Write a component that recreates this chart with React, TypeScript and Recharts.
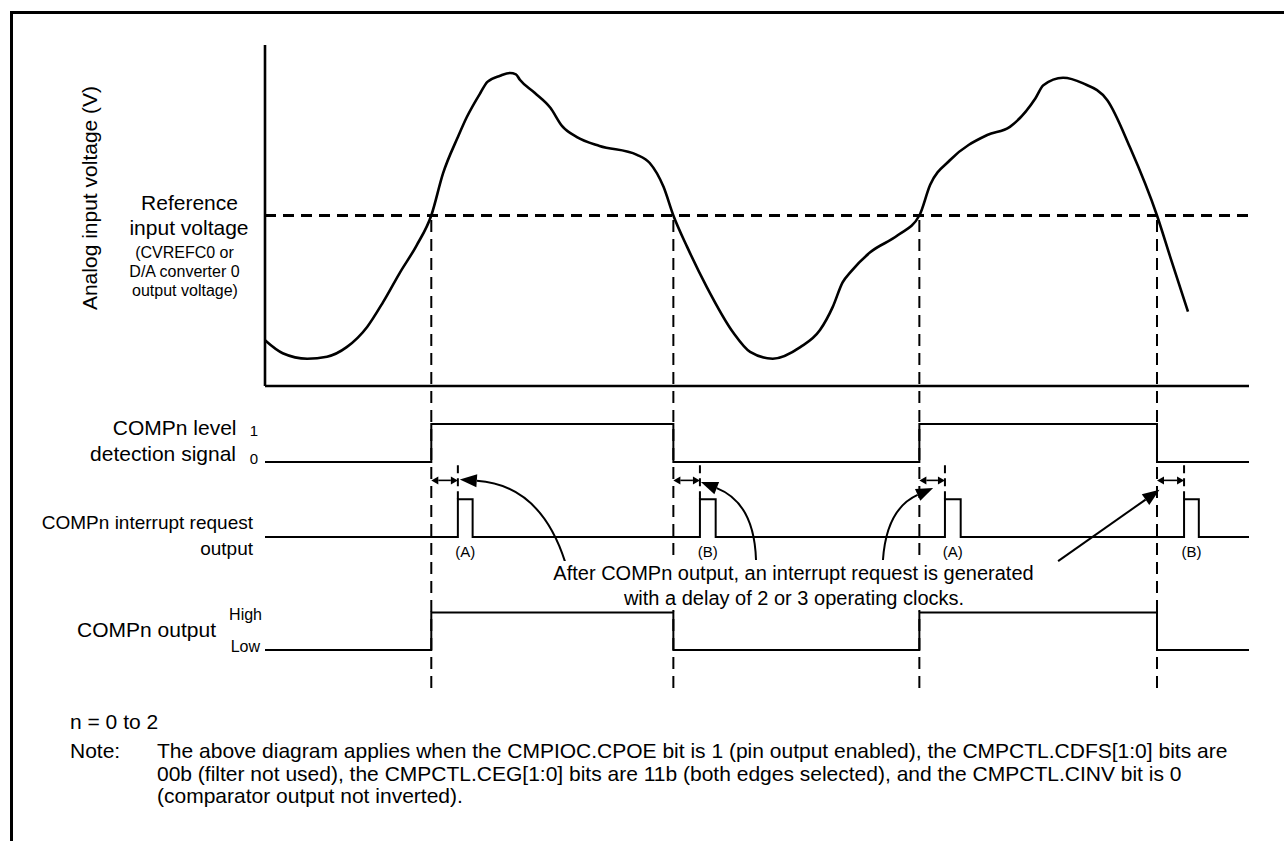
import React from 'react';
import { LineChart, Line, XAxis, YAxis, ReferenceLine, ReferenceDot } from 'recharts';

const W = 1284;
const H = 841;
const FONT = '"Liberation Sans", Arial, Helvetica, sans-serif';

// time axis, arbitrary units across the plot
const TIME_DOMAIN = [0, 100];
const VOLT_DOMAIN = [0, 5];

// analog input voltage
const analogT = [0, 1.8, 4.3, 6.3, 8.3, 10.4, 12.0, 13.7, 15.4, 16.9, 18.1, 19.6, 20.5, 21.9, 22.6, 23.9, 24.9, 25.5, 25.9, 27.4, 29.0, 30.2, 31.7, 34.0, 37.8, 39.1, 40.5, 41.5, 42.9, 44.9, 47.6, 49.3, 51.6, 54.4, 56.4, 57.7, 58.7, 59.5, 61.5, 64.3, 66.5, 67.6, 69.6, 73.4, 75.7, 78.3, 79.1, 81.1, 83.1, 85.6, 87.9, 90.65, 92.0, 93.8];
const analogV = [0.67, 0.48, 0.40, 0.43, 0.57, 0.87, 1.23, 1.66, 2.06, 2.5, 3.12, 3.65, 3.94, 4.30, 4.46, 4.55, 4.59, 4.57, 4.49, 4.30, 4.08, 3.81, 3.65, 3.52, 3.39, 3.27, 2.92, 2.5, 2.04, 1.45, 0.78, 0.50, 0.40, 0.57, 0.82, 1.16, 1.52, 1.67, 1.96, 2.21, 2.5, 2.95, 3.31, 3.68, 3.80, 4.22, 4.41, 4.52, 4.44, 4.19, 3.50, 2.5, 1.89, 1.09];
const REFERENCE_V = 2.5;

// comparator crossings -> level detection / COMPn output
const crossT = [16.9, 41.5, 66.5, 90.65];
const levelT = [0, 16.9, 41.5, 66.5, 90.65, 100];
const levelState = [0, 1, 0, 1, 0, 0];

// interrupt request pulses
const pulseStart = [19.6, 44.2, 69.1, 93.4];
const pulseEnd = [21.1, 45.8, 70.7, 94.9];
const pulseName = ['(A)', '(B)', '(A)', '(B)'];

// callout arrows: tail near the note, head at the delay marker (interrupt lane units)
const calloutTailT = [30.5, 49.9, 62.8, 80.6];
const calloutTailV = [-0.66, -0.61, -0.61, -0.64];
const calloutHeadT = [19.8, 44.3, 67.9, 90.9];
const calloutHeadV = [1.52, 1.46, 1.3, 1.25];
const calloutBend = [0.34, 0.33, -0.3, 0];

const analogData = analogT.map((t, i) => ({ t, v: analogV[i] }));
const levelData = levelT.map((t, i) => ({ t, v: levelState[i] }));
const irqData = [
  { t: 0, v: 0 },
  ...pulseStart.flatMap((s, i) => [{ t: s, v: 1 }, { t: pulseEnd[i], v: 0 }]),
  { t: 100, v: 0 },
];

// axes take 1px, so margins are 1px short of the plot edges
const margin = (top: number, bottom: number) => ({ top, bottom: H - bottom - 1, left: 264, right: 35 });
const layer: React.CSSProperties = { position: 'absolute', left: 0, top: 0 };

const DoubleArrow = (p: any) => {
  const { x1, y1, x2, y2 } = p;
  const h = 7;
  const w = 4;
  return (
    <g>
      <line x1={x1 + h} y1={y1} x2={x2 - h} y2={y2} stroke="#000" strokeWidth={1.6} />
      <path d={`M${x1},${y1} L${x1 + h},${y1 - w} L${x1 + h},${y1 + w} Z`} fill="#000" />
      <path d={`M${x2},${y2} L${x2 - h},${y2 - w} L${x2 - h},${y2 + w} Z`} fill="#000" />
    </g>
  );
};

const calloutShape = (bend: number) => (p: any) => {
  const { x1, y1, x2, y2 } = p;
  const dx = x2 - x1;
  const dy = y2 - y1;
  const len = Math.hypot(dx, dy);
  const cx = (x1 + x2) / 2 - (dy / len) * bend * len;
  const cy = (y1 + y2) / 2 + (dx / len) * bend * len;
  let ux = x2 - cx;
  let uy = y2 - cy;
  const ul = Math.hypot(ux, uy);
  ux /= ul;
  uy /= ul;
  const L = 17;
  const hw = 6.5;
  const bx = x2 - ux * L;
  const by = y2 - uy * L;
  return (
    <g>
      <path d={`M${x1},${y1} Q${cx},${cy} ${bx},${by}`} fill="none" stroke="#000" strokeWidth={2} />
      <path d={`M${x2},${y2} L${bx - uy * hw},${by + ux * hw} L${bx + uy * hw},${by - ux * hw} Z`} fill="#000" />
    </g>
  );
};

const levelTick = (p: any) => {
  const v = p.payload.value;
  return (
    <text x={p.x - 7} y={p.y + (v === 1 ? 12 : 2)} textAnchor="end" fontSize={15} fontFamily={FONT} fill="#000">
      {v === 1 ? '1' : '0'}
    </text>
  );
};

const outputTick = (p: any) => {
  const v = p.payload.value;
  return (
    <text x={p.x - (v === 1 ? 3 : 5)} y={p.y + (v === 1 ? 7.5 : 2)} textAnchor="end" fontSize={16} fontFamily={FONT} fill="#000">
      {v === 1 ? 'High' : 'Low'}
    </text>
  );
};

const hiddenX = <XAxis dataKey="t" type="number" domain={TIME_DOMAIN} allowDataOverflow height={1} tick={false} tickLine={false} axisLine={false} />;

const txt = { fontFamily: FONT, fill: '#000' };

export default function App() {
  return (
    <div style={{ position: 'absolute', left: 0, top: 0, width: W, height: H, background: '#fff', overflow: 'hidden' }}>
      {/* frame */}
      <div style={{ position: 'absolute', left: 9.5, top: 10.5, width: W, height: H, borderTop: '3px solid #000', borderLeft: '3px solid #000' }} />

      {/* analog input voltage */}
      <div style={layer}>
        <LineChart width={W} height={H} margin={margin(45, 386)}>
          <XAxis dataKey="t" type="number" domain={TIME_DOMAIN} allowDataOverflow tick={false} tickLine={false} height={1} axisLine={{ stroke: '#000', strokeWidth: 2.6 }} />
          <YAxis type="number" domain={VOLT_DOMAIN} allowDataOverflow tick={false} tickLine={false} width={1} axisLine={{ stroke: '#000', strokeWidth: 2.6 }} />
          <ReferenceLine y={REFERENCE_V} stroke="#000" strokeWidth={3.2} strokeDasharray="11 7" />
          <Line data={analogData} dataKey="v" type="monotone" stroke="#000" strokeWidth={2.6} dot={false} isAnimationActive={false} />
        </LineChart>
      </div>

      {/* crossing guides */}
      <div style={layer}>
        <LineChart width={W} height={H} margin={margin(216, 688)}>
          {hiddenX}
          <YAxis type="number" domain={[0, 1]} width={1} tick={false} tickLine={false} axisLine={false} />
          <Line data={levelData} dataKey="v" stroke="none" dot={false} isAnimationActive={false} />
          {crossT.map((t) => (
            <ReferenceLine key={t} x={t} ifOverflow="visible" stroke="#000" strokeWidth={2} strokeDasharray="12 7" />
          ))}
        </LineChart>
      </div>

      {/* COMPn level detection signal */}
      <div style={layer}>
        <LineChart width={W} height={H} margin={margin(424, 462)}>
          {hiddenX}
          <YAxis type="number" domain={[0, 1]} ticks={[0, 1]} width={1} tickSize={0} tickMargin={0} axisLine={false} tickLine={false} tick={levelTick} />
          <Line data={levelData} dataKey="v" type="stepAfter" stroke="#000" strokeWidth={2} dot={false} isAnimationActive={false} />
        </LineChart>
      </div>

      {/* COMPn interrupt request output */}
      <div style={layer}>
        <LineChart width={W} height={H} margin={margin(461.5, 574.75)}>
          {hiddenX}
          <YAxis type="number" domain={[-1, 2]} allowDataOverflow width={1} tick={false} tickLine={false} axisLine={false} />
          <Line data={irqData} dataKey="v" type="stepAfter" stroke="#000" strokeWidth={2} dot={false} isAnimationActive={false} />
          {pulseStart.map((s, i) => (
            <ReferenceLine key={'d' + i} segment={[{ x: s, y: 1 }, { x: s, y: 2 }]} ifOverflow="visible" stroke="#000" strokeWidth={2} strokeDasharray="8 5" />
          ))}
          {pulseStart.map((s, i) => (
            <ReferenceLine key={'a' + i} segment={[{ x: crossT[i], y: 1.5 }, { x: s, y: 1.5 }]} ifOverflow="visible" shape={DoubleArrow} />
          ))}
          {pulseStart.map((s, i) => (
            <ReferenceDot
              key={'l' + i}
              x={(s + pulseEnd[i]) / 2}
              y={0}
              ifOverflow="visible"
              shape={(p: any) => (
                <text x={p.cx} y={p.cy + 20} textAnchor="middle" fontSize={15} fontFamily={FONT} fill="#000">
                  {pulseName[i]}
                </text>
              )}
            />
          ))}
          {calloutTailT.map((t, i) => (
            <ReferenceLine
              key={'c' + i}
              segment={[{ x: t, y: calloutTailV[i] }, { x: calloutHeadT[i], y: calloutHeadV[i] }]}
              ifOverflow="visible"
              shape={calloutShape(calloutBend[i])}
            />
          ))}
        </LineChart>
      </div>

      {/* COMPn output */}
      <div style={layer}>
        <LineChart width={W} height={H} margin={margin(612.5, 650)}>
          {hiddenX}
          <YAxis type="number" domain={[0, 1]} ticks={[0, 1]} width={1} tickSize={0} tickMargin={0} axisLine={false} tickLine={false} tick={outputTick} />
          <Line data={levelData} dataKey="v" type="stepAfter" stroke="#000" strokeWidth={2} dot={false} isAnimationActive={false} />
        </LineChart>
      </div>

      {/* labels */}
      <svg width={W} height={H} style={{ ...layer, pointerEvents: 'none' }}>
        <text x={97} y={198} fontSize={21} textAnchor="middle" transform="rotate(-90 97 198)" {...txt}>Analog input voltage (V)</text>
        <text x={189.5} y={210} fontSize={21} textAnchor="middle" {...txt}>Reference</text>
        <text x={189} y={235} fontSize={21} textAnchor="middle" {...txt}>input voltage</text>
        <text x={184.5} y={258} fontSize={16} textAnchor="middle" {...txt}>(CVREFC0 or</text>
        <text x={184.5} y={277} fontSize={16} textAnchor="middle" {...txt}>D/A converter 0</text>
        <text x={185} y={296} fontSize={16} textAnchor="middle" {...txt}>output voltage)</text>

        <text x={236.5} y={435} fontSize={21} textAnchor="end" {...txt}>COMPn level</text>
        <text x={236} y={461} fontSize={21} textAnchor="end" {...txt}>detection signal</text>
        <text x={253} y={529} fontSize={19} textAnchor="end" {...txt}>COMPn interrupt request</text>
        <text x={253} y={555} fontSize={19} textAnchor="end" {...txt}>output</text>
        <text x={216} y={637} fontSize={21} textAnchor="end" {...txt}>COMPn output</text>

        {/* the note sits on a white box that interrupts the guide lines */}
        <rect x={548} y={561} width={492} height={49} fill="#fff" />
        <text x={793.5} y={580} fontSize={20} textAnchor="middle" {...txt}>After COMPn output, an interrupt request is generated</text>
        <text x={794} y={605} fontSize={20} textAnchor="middle" {...txt}>with a delay of 2 or 3 operating clocks.</text>

        <text x={70} y={729} fontSize={21} {...txt}>n = 0 to 2</text>
        <text x={70} y={758} fontSize={21} {...txt}>Note:</text>
        <text x={157} y={758} fontSize={21} {...txt}>The above diagram applies when the CMPIOC.CPOE bit is 1 (pin output enabled), the CMPCTL.CDFS[1:0] bits are</text>
        <text x={157} y={780.5} fontSize={21} {...txt}>00b (filter not used), the CMPCTL.CEG[1:0] bits are 11b (both edges selected), and the CMPCTL.CINV bit is 0</text>
        <text x={157} y={803} fontSize={21} {...txt}>(comparator output not inverted).</text>
      </svg>
    </div>
  );
}
